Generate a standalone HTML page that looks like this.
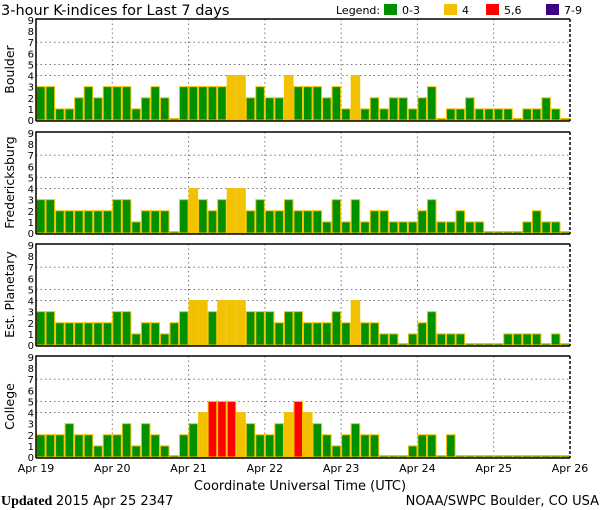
<!DOCTYPE html>
<html><head><meta charset="utf-8">
<style>
body{margin:0;background:#fff;}
svg{display:block;font-family:"DejaVu Sans","Liberation Sans",sans-serif;}
</style></head>
<body>
<svg id="chart" width="600" height="510" viewBox="0 0 600 510" xmlns="http://www.w3.org/2000/svg">
<text x="1" y="15" font-size="14.5">3-hour K-indices for Last 7 days</text>
<g font-size="11">
<text x="336" y="14">Legend:</text>
<rect x="384" y="4" width="13" height="11" fill="#009000"/><text x="402" y="14">0-3</text>
<rect x="444" y="4" width="13" height="11" fill="#f2c200"/><text x="462" y="14">4</text>
<rect x="486" y="4" width="13" height="11" fill="#ff0000"/><text x="504" y="14">5,6</text>
<rect x="546" y="4" width="13" height="11" fill="#3c0080"/><text x="564" y="14">7-9</text>
</g>
<g id="panels"></g>
<text x="300" y="490" font-size="13" text-anchor="middle">Coordinate Universal Time (UTC)</text>
<text x="1" y="505" font-size="14" font-family="Liberation Serif,serif"><tspan font-weight="bold">Updated</tspan> <tspan font-family="DejaVu Sans,sans-serif" font-size="13">2015 Apr 25 2347</tspan></text>
<text x="599" y="505" font-size="13" text-anchor="end">NOAA/SWPC Boulder, CO USA</text>
</svg>
<script>
const stations = ["Boulder","Fredericksburg","Est. Planetary","College"];
const dayLabels = ["Apr 19","Apr 20","Apr 21","Apr 22","Apr 23","Apr 24","Apr 25","Apr 26"];
const yTicks = [0,1,2,3,4,5,6,7,8,9];
const boulder = [3,3,1,1,2,3,2,3, 3,3,1,2,3,2,0,3, 3,3,3,3,4,4,2,3, 2,2,4,3,3,3,2,3, 1,4,1,2,1,2,2,1, 2,3,0,1,1,2,1,1, 1,1,0,1,1,2,1,0];
const fredericksburg = [3,3,2,2,2,2,2,2, 3,3,1,2,2,2,0,3, 4,3,2,3,4,4,2,3, 2,2,3,2,2,2,1,3, 1,3,1,2,2,1,1,1, 2,3,1,1,2,1,1,0, 0,0,0,1,2,1,1,0];
const planetary = [3,3,2,2,2,2,2,2, 3,3,1,2,2,1,2,3, 4,4,3,4,4,4,3,3, 3,2,3,3,2,2,2,3, 2,4,2,2,1,1,0,1, 2,3,1,1,1,0,0,0, 0,1,1,1,1,0,1,0];
const college = [2,2,2,3,2,2,1,2, 2,3,1,3,2,1,0,2, 3,4,5,5,5,4,3,2, 2,3,4,5,4,3,2,1, 2,3,2,2,0,0,0,1, 2,2,0,2,0,0,0,0, 0,0,0,0,0,0,0,0];
const series = [boulder, fredericksburg, planetary, college];

const NS="http://www.w3.org/2000/svg";
const L=36, R=570, nBars=56, bw=(R-L)/nBars;
const bottoms=[120,233,345,457], tops=[19,132,244,356];
function xScale(i){return L+i*bw;}
function color(v){return v<=3?"#009000":v==4?"#f2c200":v<=6?"#ff0000":"#3c0080";}
function mk(tag,attrs,parent){const e=document.createElementNS(NS,tag);for(const k in attrs)e.setAttribute(k,attrs[k]);parent.appendChild(e);return e;}
const root=document.getElementById('panels');
series.forEach((data,p)=>{
  const b=bottoms[p], t=tops[p], u=(b-t-1)/9;
  const y=v=>b-v*u;
  const g=mk('g',{},root);
  
  
  // grid
  [4,5,7].forEach(v=>{const l=mk('line',{x1:L,x2:R,y1:y(v),y2:y(v),stroke:'#777','stroke-dasharray':'1.5,3'},g);
    });
  for(let d=1;d<7;d++){const l=mk('line',{x1:xScale(d*8),x2:xScale(d*8),y1:t,y2:b,stroke:'#777','stroke-dasharray':'1.5,3'},g);
    }
  // bars
  data.forEach((v,i)=>{
    const h=Math.max(v*u,1.5);
    const r=mk('rect',{x:xScale(i)+0.5,y:b-h,width:bw-1,height:h,fill:color(v),stroke:'#f2c200','stroke-width':1},g);
    
    
  });
  // axes
  const ax=mk('path',{d:`M${L} ${b+1} L${L} ${t} L${R} ${t}`,fill:'none',stroke:'#000','stroke-width':1.5},g);
  
  const bl=mk('line',{x1:L,x2:R,y1:b+1,y2:b+1,stroke:'#000','stroke-width':1.5},g);
  
  const rl=mk('line',{x1:R,x2:R,y1:t,y2:b+1,stroke:'#000','stroke-width':1.5,'stroke-dasharray':'3,2'},g);
  
  yTicks.forEach(v=>{const tx=mk('text',{x:34,y:y(v)+4,'font-size':10,'text-anchor':'end'},g);tx.textContent=v;
    });
  const yt=mk('text',{x:0,y:0,'font-size':12.5,'text-anchor':'middle',transform:`translate(14 ${(t+b)/2}) rotate(-90)`},g);
  yt.textContent=stations[p];
  
});
const svg=document.getElementById('chart');
dayLabels.forEach((d,i)=>{const tx=mk('text',{x:xScale(i*8),y:472,'font-size':11,'text-anchor':'middle'},svg);tx.textContent=d;
  });
</script>
</body></html>
